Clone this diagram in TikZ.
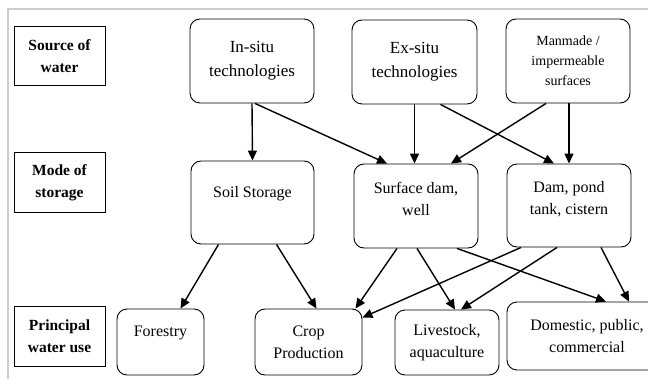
\documentclass[tikz,border=0pt]{standalone}
\usepackage{fontspec}
\setmainfont{Liberation Serif}
\usepackage{tikz}
\usetikzlibrary{arrows.meta}

\tikzset{
  rbox/.style={draw, line width=0.9pt, rounded corners=10pt, align=center, inner sep=0pt, font=\fontsize{16}{22}\selectfont},
  lbox/.style={draw, line width=1pt, align=center, inner sep=0pt, minimum width=91pt, font=\bfseries\fontsize{15.5}{22}\selectfont},
  flow/.style={line width=1.4pt, -{Triangle[length=10pt,width=9pt]}}
}

\begin{document}
\begin{tikzpicture}[x=1pt, y=-1pt]
    \clip (0,0) rectangle (648,379);
    \draw[gray!40, line width=2pt] (8,379) -- (8,9) -- (648,9);
    % row labels
    \node[lbox, minimum height=59pt] (srclbl) at (59.5, 56.5) {Source of\\water};
    \node[lbox, minimum height=60pt] (modelbl) at (59.5, 182.5) {Mode of\\storage};
    \node[lbox, minimum height=59pt] (uselbl) at (59.5, 336.5) {Principal\\water use};
    % sources
    \node[rbox, minimum width=124pt, minimum height=84pt, font=\fontsize{17}{24}\selectfont] (insitu) at (252, 61) {In-situ\\technologies};
    \node[rbox, minimum width=125pt, minimum height=84pt, font=\fontsize{17}{24}\selectfont] (exsitu) at (414.5, 62) {Ex-situ\\technologies};
    \node[rbox, minimum width=124pt, minimum height=84pt, font=\fontsize{14}{20}\selectfont] (manmade) at (568, 61) {Manmade /\\impermeable\\surfaces};
    % storage
    \node[rbox, minimum width=123pt, minimum height=83pt] (soil) at (252.5, 202.5) {Soil Storage\\ \mbox{}};
    \node[rbox, minimum width=124pt, minimum height=84pt] (surf) at (416, 206) {Surface dam,\\well\\[-7pt] \mbox{}};
    \node[rbox, minimum width=124pt, minimum height=83pt] (dampond) at (569, 205.5) {Dam, pond\\tank, cistern\\[-7pt] \mbox{}};
    % uses
    \node[rbox, minimum width=87pt, minimum height=66pt] (forestry) at (160.5, 342) {Forestry\\ \mbox{}};
    \node[rbox, minimum width=107pt, minimum height=66pt] (crop) at (308.5, 342) {Crop\\Production};
    \node[rbox, minimum width=104pt, minimum height=65pt] (livestock) at (447, 342.5) {Livestock,\\aquaculture};
    \node[rbox, minimum width=160pt, minimum height=68pt] (domestic) at (587, 336) {Domestic, public,\\commercial};
    % source -> storage
    \draw[flow] (insitu.south) -- (soil.north);
    \draw[flow] ([xshift=3pt]insitu.south) -- ([xshift=-29pt]surf.north);
    \draw[flow] (exsitu.south) -- ([xshift=-1.5pt]surf.north);
    \draw[flow] ([xshift=26pt]exsitu.south) -- ([xshift=-15pt]dampond.north);
    \draw[flow] ([xshift=-22pt]manmade.south) -- ([xshift=35pt]surf.north);
    \draw[flow] ([xshift=1pt]manmade.south) -- (dampond.north);
    % storage -> use
    \draw[flow] ([xshift=-34pt]soil.south) -- ([xshift=20pt]forestry.north);
    \draw[flow] ([xshift=24pt]soil.south) -- ([xshift=8pt]crop.north);
    \draw[flow] ([xshift=-19pt]surf.south) -- ([xshift=47pt]crop.north);
    \draw[flow] ([xshift=1pt]surf.south) -- ([xshift=8pt]livestock.north);
    \draw[flow] ([xshift=41pt]surf.south) -- ([xshift=19pt]domestic.north);
    \draw[flow] ([xshift=-48pt]dampond.south) -- ([yshift=-9pt]crop.north east);
    \draw[flow] ([xshift=-12pt]dampond.south) -- ([xshift=14pt]livestock.north);
    \draw[flow] ([xshift=32pt]dampond.south) -- ([xshift=42pt]domestic.north);
\end{tikzpicture}
\end{document}
